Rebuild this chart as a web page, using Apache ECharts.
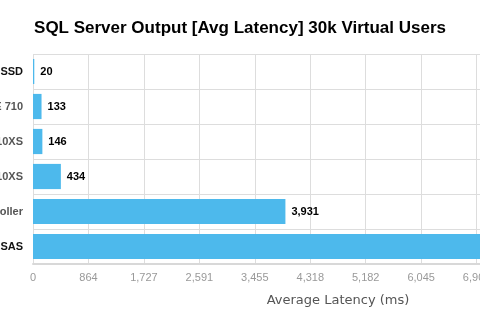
<!DOCTYPE html>
<html>
<head>
<meta charset="utf-8">
<script src="https://cdn.jsdelivr.net/npm/echarts@6/dist/echarts.min.js"></script>
<style>
  html, body { margin: 0; padding: 0; background: #fff; }
  #chart { width: 480px; height: 332px; }
</style>
</head>
<body>
<div id="chart"></div>
<script>
// Systems under test, top to bottom
const categories = [
  'PCIe Flash SSD',
  'X-IO ISE 710',
  'Dell EqualLogic PS6210XS',
  'Dell EqualLogic PS6110XS',
  'RAID Controller',
  '15K SAS'
];
// Average latency in milliseconds
const latency = [20, 133, 146, 434, 3931, 9200];
// Labels drawn darker than the rest
const darkLabels = [0, 5];

const axisMax = 9500;
const axisSteps = 11;

const chart = echarts.init(document.getElementById('chart'), null, { renderer: 'canvas' });

chart.setOption({
  animation: false,
  title: {
    text: 'SQL Server Output [Avg Latency] 30k Virtual Users',
    left: 'center',
    top: 15,
    textStyle: {
      fontFamily: 'Liberation Sans, Arial, sans-serif',
      fontWeight: 'bold',
      fontSize: 17,
      color: '#000'
    }
  },
  grid: {
    left: 33,
    top: 54,
    width: 610,
    height: 210,
    containLabel: false,
    outerBoundsMode: 'none'
  },
  xAxis: {
    type: 'value',
    min: 0,
    max: axisMax,
    interval: axisMax / axisSteps,
    name: 'Average Latency (ms)',
    nameLocation: 'middle',
    nameGap: 30,
    nameTextStyle: {
      fontFamily: 'DejaVu Sans, sans-serif',
      fontSize: 13,
      color: '#555'
    },
    axisLine: { show: true, lineStyle: { color: '#d8d8d8', width: 2 } },
    axisTick: { show: false },
    splitLine: { show: true, lineStyle: { color: '#dddddd', width: 1 } },
    axisLabel: {
      margin: 8,
      fontFamily: 'Liberation Sans, Arial, sans-serif',
      fontSize: 11,
      color: '#999',
      formatter: v => Math.round(v).toLocaleString('en-US')
    }
  },
  yAxis: {
    type: 'category',
    data: categories,
    inverse: true,
    axisLine: { show: false },
    axisTick: { show: false },
    splitLine: { show: true, lineStyle: { color: '#dddddd', width: 1 } },
    axisLabel: {
      margin: 10,
      fontFamily: 'Liberation Sans, Arial, sans-serif',
      fontWeight: 'bold',
      fontSize: 11,
      color: (value, index) => darkLabels.includes(index) ? '#111' : '#555'
    }
  },
  series: [{
    type: 'bar',
    data: latency,
    barCategoryGap: '28%',
    itemStyle: { color: '#4db9ec' },
    label: {
      show: true,
      position: 'right',
      distance: 6,
      fontFamily: 'Liberation Sans, Arial, sans-serif',
      fontWeight: 'bold',
      fontSize: 11,
      color: '#000',
      formatter: p => p.value.toLocaleString('en-US')
    }
  }]
});
</script>
</body>
</html>
